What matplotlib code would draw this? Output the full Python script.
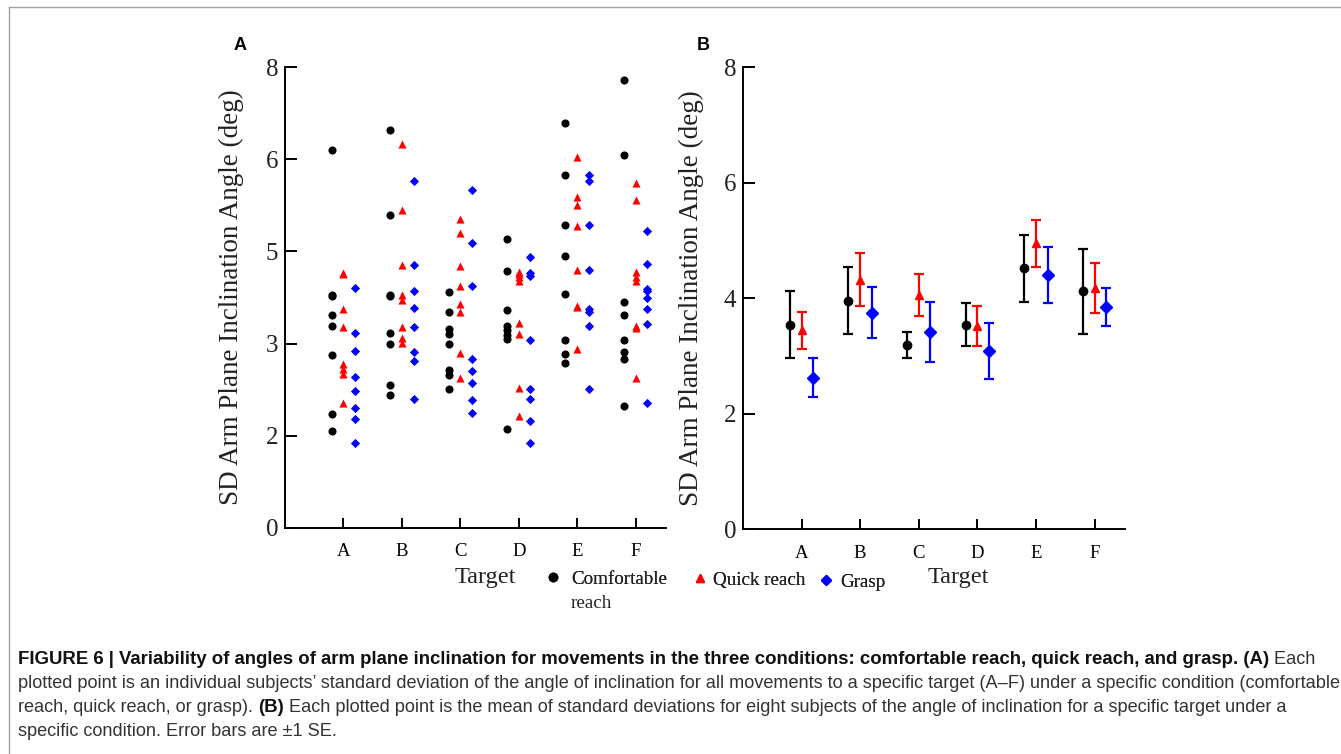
import matplotlib
matplotlib.use('Agg')
import matplotlib.pyplot as plt
from matplotlib.lines import Line2D

W, H = 1341, 754

targets = ['A', 'B', 'C', 'D', 'E', 'F']
condition_labels = ['Comfortable', 'Quick reach', 'Grasp']

# Panel A: individual subjects' SD per target (8 subjects)
comfortable_pts = [
    [6.56, 4.05, 4.03, 3.70, 3.50, 3.01, 1.98, 1.69],
    [6.91, 5.43, 4.05, 4.03, 3.39, 3.20, 2.49, 2.30],
    [4.10, 3.75, 3.45, 3.37, 3.20, 2.74, 2.66, 2.42],
    [5.01, 4.46, 3.78, 3.51, 3.43, 3.35, 3.28, 1.72],
    [7.02, 6.13, 5.26, 4.72, 4.06, 3.27, 3.02, 2.86],
    [7.78, 6.48, 3.93, 3.69, 3.26, 3.05, 2.93, 2.12],
]
quick_pts = [
    [4.42, 4.40, 3.80, 3.48, 2.85, 2.76, 2.68, 2.17],
    [6.66, 5.51, 4.57, 4.05, 3.95, 3.48, 3.30, 3.21],
    [5.36, 5.12, 4.54, 4.20, 3.89, 3.74, 3.04, 2.60],
    [4.44, 4.40, 4.36, 4.29, 3.56, 3.37, 2.43, 1.95],
    [6.44, 5.75, 5.60, 5.24, 4.48, 3.85, 3.83, 3.11],
    [5.98, 5.70, 4.44, 4.36, 4.28, 3.50, 3.47, 2.60],
]
grasp_pts = [
    [4.17, 3.39, 3.07, 2.62, 2.37, 2.09, 1.90, 1.48],
    [6.02, 4.56, 4.11, 3.82, 3.48, 3.05, 2.89, 2.23],
    [5.87, 4.94, 4.20, 2.93, 2.73, 2.52, 2.22, 2.00],
    [4.70, 4.43, 4.37, 3.26, 2.42, 2.23, 1.85, 1.48],
    [6.12, 6.02, 5.26, 4.47, 3.80, 3.74, 3.51, 2.42],
    [5.16, 4.59, 4.14, 4.12, 3.99, 3.80, 3.54, 2.17],
]

# Panel B: mean of SDs and SE
comfortable_mean = [3.545, 3.96, 3.195, 3.545, 4.52, 4.125]
comfortable_se = [0.575, 0.58, 0.225, 0.365, 0.58, 0.735]
quick_mean = [3.445, 4.325, 4.055, 3.52, 4.95, 4.18]
quick_se = [0.315, 0.455, 0.365, 0.34, 0.40, 0.43]
grasp_mean = [2.625, 3.75, 3.415, 3.09, 4.395, 3.85]
grasp_se = [0.335, 0.44, 0.525, 0.49, 0.485, 0.33]

yticks_A = [0, 1.6, 3.2, 4.8, 6.4, 8.0]
yticklabels_A = ['0', '2', '3', '5', '6', '8']
yticks_B = [0, 2, 4, 6, 8]
yticklabels_B = ['0', '2', '4', '6', '8']

ylabel_text = 'SD Arm Plane Inclination Angle (deg)'
caption_lines = [
    [('FIGURE 6 | Variability of angles of arm plane inclination for movements in the three conditions: '
      'comfortable reach, quick reach, and grasp. (A)', 'bold'), (' Each', 'normal')],
    [('plotted point is an individual subjects\u2019 standard deviation of the angle of inclination for all '
      'movements to a specific target (A\u2013F) under a specific condition (comfortable', 'normal')],
    [('reach, quick reach, or grasp). ', 'normal'), ('(B)', 'bold'),
     (' Each plotted point is the mean of standard deviations for eight subjects of the angle of '
      'inclination for a specific target under a', 'normal')],
    [('specific condition. Error bars are \u00b11 SE.', 'normal')],
]

serif = ['Liberation Serif', 'DejaVu Serif']
sans = ['Liberation Sans', 'DejaVu Sans']

fig = plt.figure(figsize=(W / 100, H / 100), dpi=100)
fig.patch.set_facecolor('white')


def px_axes(l, r, b, t):
    return fig.add_axes([l / W, 1 - b / H, (r - l) / W, (b - t) / H])


axA = px_axes(285, 666, 528, 67)
axB = px_axes(743, 1125, 529.3, 67.3)

xpos = list(range(1, len(targets) + 1))
offset = 0.2

colors = ['black', 'red', 'blue']
markers_A = ['o', '^', 'D']
sizes_A = [34, 34, 22]

for ax in (axA, axB):
    for s in ('top', 'right'):
        ax.spines[s].set_visible(False)
    for s in ('left', 'bottom'):
        ax.spines[s].set_linewidth(1.4)
    ax.set_xlim(0, 6.52)
    ax.set_ylim(0, 8)
    ax.set_xticks(xpos)
    ax.set_xticklabels(targets, family=serif, fontsize=13.5)
    ax.tick_params(axis='x', direction='in', length=7.5, width=1.4, pad=11)
    ax.tick_params(axis='y', direction='in', length=8.5, width=1.4, pad=5)

# Panel A scatter
for ci, pts in enumerate([comfortable_pts, quick_pts, grasp_pts]):
    for ti, vals in enumerate(pts):
        axA.scatter([xpos[ti] + (ci - 1) * offset] * len(vals), vals,
                    s=sizes_A[ci], marker=markers_A[ci], color=colors[ci],
                    linewidths=0, zorder=3)
axA.set_yticks(yticks_A)
axA.set_yticklabels(yticklabels_A, family=serif, fontsize=18, color='#222222')
axA.set_ylabel(ylabel_text, family=serif, fontsize=19.5, color='#222222')
axA.yaxis.set_label_coords(-0.108, 0.5)

# Panel B error bars
means = [comfortable_mean, quick_mean, grasp_mean]
ses = [comfortable_se, quick_se, grasp_se]
msB = [6, 5.5, 6.5]
mkB = ['o', '^', 'D']
for ci in range(3):
    axB.errorbar([x + (ci - 1) * offset for x in xpos], means[ci], yerr=ses[ci],
                 fmt=mkB[ci], color=colors[ci], ms=msB[ci],
                 markeredgecolor=colors[ci], markerfacecolor=colors[ci],
                 elinewidth=1.6, capsize=3.5, capthick=1.6, zorder=3)
axB.set_yticks(yticks_B)
axB.set_yticklabels(yticklabels_B, family=serif, fontsize=18, color='#222222')
axB.set_ylabel(ylabel_text, family=serif, fontsize=19.5, color='#222222')
axB.yaxis.set_label_coords(-0.102, 0.5)

# Panel letters
fig.text(240 / W, 1 - 45 / H, 'A', family=sans, fontweight='bold', fontsize=13,
         ha='center', va='center')
fig.text(703 / W, 1 - 45 / H, 'B', family=sans, fontweight='bold', fontsize=13,
         ha='center', va='center')

# Target labels
fig.text(485 / W, 1 - 578 / H, 'Target', family=serif, fontsize=17.5, ha='center',
         va='center', color='#222222')
fig.text(958 / W, 1 - 578 / H, 'Target', family=serif, fontsize=17.5, ha='center',
         va='center', color='#222222')

# Legend entries (one per condition for precise placement)
leg_specs = [
    (547.3, 579, 0.65, Line2D([], [], ls='none', marker='o', color='black', ms=6)),
    (694.3, 580, 0.38, Line2D([], [], ls='none', marker='^', color='red', ms=6)),
    (820.3, 582, 0.44, Line2D([], [], ls='none', marker='D', color='blue', ms=5)),
]
for (lx, ly, pad, h), lab in zip(leg_specs, condition_labels):
    lg = fig.legend([h], [lab], loc='center left', bbox_to_anchor=(lx / W, 1 - ly / H),
                    frameon=False, borderpad=0, borderaxespad=0, handlelength=0.6,
                    handletextpad=pad, prop={'family': serif, 'size': 13.7})
    for t in lg.get_texts():
        t.set_color('#222222')
    fig.add_artist(lg)
fig.text(571 / W, 1 - 603 / H, 'reach', family=serif, fontsize=13.7, ha='left',
         va='center', color='#222222')

# Border lines (top and left)
fig.add_artist(Line2D([9 / W, 9 / W], [0, 1 - 7 / H], transform=fig.transFigure,
                      color='#a0a0a0', lw=1))
fig.add_artist(Line2D([9 / W, 1], [1 - 7 / H, 1 - 7 / H], transform=fig.transFigure,
                      color='#a0a0a0', lw=1))

# Caption with mixed bold / regular runs
renderer = fig.canvas.get_renderer()
cap_sizes = {'bold': 13.4, 'normal': 13.05}
baselines = [664, 688, 712, 736]
for parts, yb in zip(caption_lines, baselines):
    x = 18
    for txt, weight in parts:
        t = fig.text(x / W, 1 - yb / H, txt, family=sans, fontsize=cap_sizes[weight],
                     fontweight=weight, ha='left', va='baseline',
                     color='#111111' if weight == 'bold' else '#333333')
        x += t.get_window_extent(renderer).width

fig.savefig('out.png', dpi=100, facecolor='white')
